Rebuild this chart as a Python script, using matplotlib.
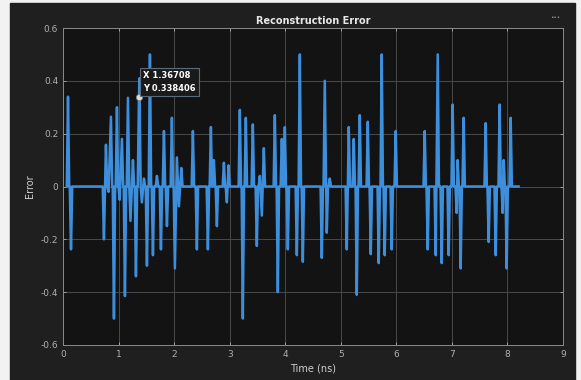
import numpy as np
import matplotlib.pyplot as plt
from matplotlib.patches import Rectangle

# error peaks (time in ns, error); the signal sits at 0 between them
peak_t = [0.090, 0.144, 0.737, 0.773, 0.820, 0.863, 0.917, 0.971, 1.020, 1.061,
          1.115, 1.169, 1.215, 1.259, 1.313, 1.36708, 1.376, 1.420, 1.457, 1.511,
          1.565, 1.619, 1.691, 1.763, 1.817, 1.871, 1.960, 2.014, 2.050, 2.086,
          2.130, 2.338, 2.410, 2.608, 2.662, 2.716, 2.770, 2.896, 2.950, 2.980,
          3.183, 3.237, 3.291, 3.417, 3.489, 3.543, 3.579, 3.615, 3.813, 3.867,
          3.939, 3.993, 4.047, 4.209, 4.263, 4.317, 4.658, 4.712, 4.748, 4.802,
          5.108, 5.144, 5.234, 5.288, 5.342, 5.486, 5.540, 5.683, 5.737, 5.791,
          5.917, 5.989, 6.511, 6.565, 6.709, 6.745, 6.817, 6.942, 7.014, 7.086,
          7.104, 7.158, 7.212, 7.608, 7.662, 7.788, 7.860, 7.914, 7.932, 7.986,
          8.058]
peak_v = [0.34, -0.238, -0.20, 0.158, -0.02, 0.264, -0.50, 0.30, -0.05, 0.18,
          -0.415, 0.336, -0.13, 0.10, -0.34, 0.338406, 0.41, -0.06, 0.03, -0.30,
          0.50, -0.26, 0.04, -0.238, 0.21, -0.15, 0.26, -0.31, 0.11, -0.075,
          0.07, 0.21, -0.238, -0.238, 0.225, 0.10, -0.15, 0.09, -0.06, 0.08,
          0.29, -0.50, 0.26, 0.235, -0.225, 0.04, -0.11, 0.145, 0.27, -0.40,
          0.18, 0.225, -0.238, -0.26, 0.50, -0.285, -0.27, 0.40, -0.175, 0.03,
          -0.238, 0.225, 0.18, -0.41, 0.27, 0.245, -0.256, -0.29, 0.50, -0.26,
          -0.238, 0.21, 0.21, -0.238, -0.26, 0.50, -0.29, -0.26, 0.31, -0.10,
          0.10, -0.31, 0.26, 0.24, -0.21, -0.26, 0.31, -0.10, 0.10, -0.31,
          0.26]
t_end = 8.201

tip_x = 1.36708
tip_y = 0.338406

x_ticks = [0, 1, 2, 3, 4, 5, 6, 7, 8, 9]
y_ticks = [-0.6, -0.4, -0.2, 0, 0.2, 0.4, 0.6]

# turn the peaks into narrow needles on a zero baseline
w = 0.022
line_t, line_v = [], []
n = len(peak_t)
for i in range(n):
    t, v = peak_t[i], peak_v[i]
    if i == 0 or t - peak_t[i - 1] > 2 * w:
        line_t.append(t - w)
        line_v.append(0)
    line_t.append(t)
    line_v.append(v)
    if i == n - 1 or peak_t[i + 1] - t > 2 * w:
        line_t.append(t + w)
        line_v.append(0)
line_t.append(t_end)
line_v.append(0)

fig = plt.figure(figsize=(5.81, 3.80), dpi=100, facecolor='#f2f2f2')
# dark panel behind the axes
fig.patches.append(Rectangle((10 / 581, 0), 565 / 581, 377 / 380,
                             transform=fig.transFigure, color='#1f1f1f', zorder=-10))

ax = fig.add_axes([63 / 581, 35 / 380, 500 / 581, 317 / 380])
ax.set_zorder(1)
ax.set_facecolor('#131313')

ax.plot(line_t, line_v, color='#3d8fdc', lw=1.8)

ax.set_xlim(0, 9)
ax.set_ylim(-0.6, 0.6)
ax.set_xticks(x_ticks)
ax.set_yticks(y_ticks)
ax.set_yticklabels(['-0.6', '-0.4', '-0.2', '0', '0.2', '0.4', '0.6'])
ax.grid(True, color='#4a4a4a', lw=0.7)
ax.set_axisbelow(True)
ax.tick_params(colors='#b0b0b0', labelsize=6.5, length=2.5, width=0.6,
               direction='in', right=True, top=True)
for s in ax.spines.values():
    s.set_color('#8a8a8a')
    s.set_linewidth(0.7)

ax.set_title('Reconstruction Error', color='#e8e8e8', fontsize=7,
             fontweight='bold', pad=3)
ax.set_xlabel('Time (ns)', color='#d0d0d0', fontsize=7, labelpad=3)
ax.set_ylabel('Error', color='#d0d0d0', fontsize=7, labelpad=4)

# data tip
ax.plot([tip_x], [tip_y], 'o', ms=4.5, color='#e0e0d0', mec='#808080', mew=0.5, zorder=5)
ax.annotate('X 1.36708\nY 0.338406', xy=(tip_x, tip_y), xytext=(3, 3),
            textcoords='offset points', color='white', fontsize=6,
            fontweight='bold', linespacing=1.5, va='bottom', ha='left',
            bbox=dict(boxstyle='square,pad=0.4', fc='#1a1a1a', ec='#5a6a7a', lw=0.8),
            zorder=6)

fig.text(555 / 581, 1 - 18 / 380, '•••', color='#a0a0a0', fontsize=4,
         ha='center', va='center')

fig.savefig('out.png', dpi=100, facecolor=fig.get_facecolor())
